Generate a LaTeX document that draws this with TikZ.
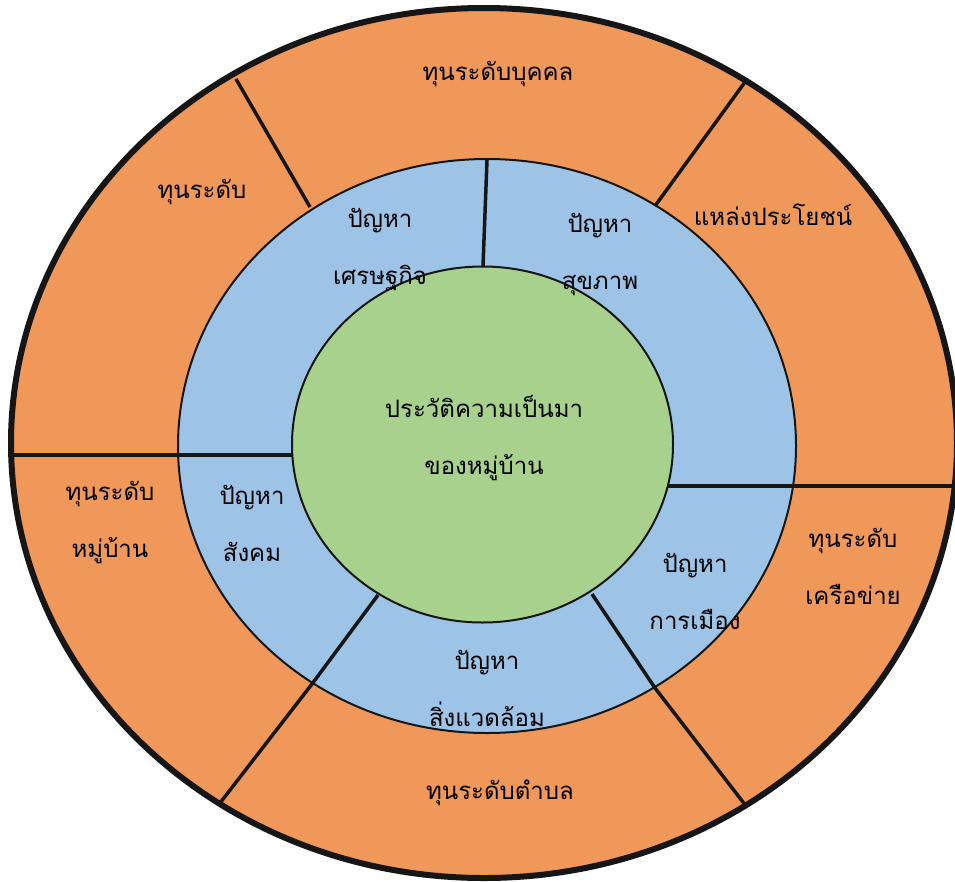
\documentclass[tikz,border=0pt]{standalone}
\usepackage{fontspec}
\newfontfamily\thai[Script=Thai]{Loma}
\definecolor{ringorange}{HTML}{F0985A}
\definecolor{ringblue}{HTML}{9DC3E6}
\definecolor{ringgreen}{HTML}{A9D18E}
\definecolor{edge}{HTML}{161616}
\tikzset{
  lbl/.style={font=\thai\fontsize{24}{57}\selectfont, align=center, text=black, inner sep=0pt},
  divider/.style={draw=edge, line width=3.5pt},
}
\begin{document}
\begin{tikzpicture}[x=1pt,y=-1pt]
\useasboundingbox (0,0) rectangle (955,881);
% rings
\draw[fill=ringorange, draw=edge, line width=6pt] (484,443) ellipse [x radius=473, y radius=435];
\draw[fill=ringblue, draw=edge, line width=2pt] (487,446) ellipse [x radius=309, y radius=287];
% dividers
\coordinate (o1) at (236,79);  \coordinate (b1) at (310,207);
\coordinate (o2) at (745,82);  \coordinate (b2) at (655,206);
\coordinate (o3) at (12,455);  \coordinate (b3) at (178,455); \coordinate (g3) at (292,455);
\coordinate (o4) at (960,486); \coordinate (b4) at (795,486); \coordinate (g4) at (668,486);
\coordinate (o5) at (220,803); \coordinate (b5) at (312,684); \coordinate (g5) at (378,595);
\coordinate (o6) at (746,806); \coordinate (b6) at (655,688); \coordinate (g6) at (592,594);
\coordinate (b7) at (487,160); \coordinate (g7) at (483,266);
\draw[divider] (o1) -- (b1);
\draw[divider] (o2) -- (b2);
\draw[divider] (o3) -- (g3);
\draw[divider] (o4) -- (g4);
\draw[divider] (g5) -- (b5) -- (o5);
\draw[divider] (g6) -- (b6) -- (o6);
\draw[divider] (b7) -- (g7);
\draw[fill=ringgreen, draw=edge, line width=2pt] (482.5,444.5) ellipse [x radius=190.5, y radius=178];
% labels
\node[lbl] (center) at (484,438) {ประวัติความเป็นมา\\ของหมู่บ้าน};
\node[lbl] (econ) at (380,250) {ปัญหา\\เศรษฐกิจ};
\node[lbl] (health) at (600,255) {ปัญหา\\สุขภาพ};
\node[lbl] (social) at (252,523) {ปัญหา\\สังคม};
\node[lbl] (env) at (487,688) {ปัญหา\\สิ่งแวดล้อม};
\node[lbl] (pol) at (695,591) {ปัญหา\\การเมือง};
\node[lbl] (indiv) at (498,74) {ทุนระดับบุคคล};
\node[lbl] (cap) at (202,192) {ทุนระดับ};
\node[lbl] (res) at (773,215) {แหล่งประโยชน์};
\node[lbl] (village) at (110,523) {ทุนระดับ\\หมู่บ้าน};
\node[lbl] (net) at (853,566) {ทุนระดับ\\เครือข่าย};
\node[lbl] (tambon) at (500,793) {ทุนระดับตำบล};
\end{tikzpicture}
\end{document}
